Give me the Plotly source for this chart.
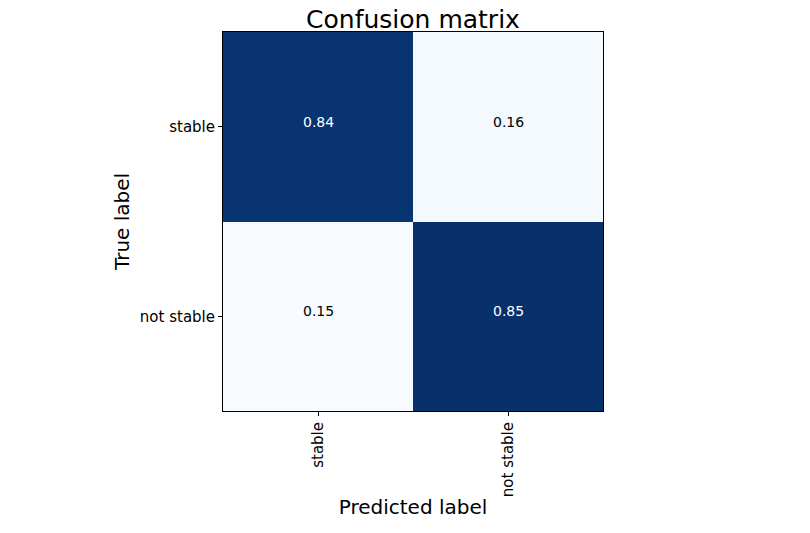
import plotly.graph_objects as go

classes = ["stable", "not stable"]
cm_values = [[0.84, 0.16],
             [0.15, 0.85]]

# matplotlib "Blues"
blues = [[0.0, "#f7fbff"], [0.125, "#deebf7"], [0.25, "#c6dbef"],
         [0.375, "#9ecae1"], [0.5, "#6baed6"], [0.625, "#4292c6"],
         [0.75, "#2171b5"], [0.875, "#08519c"], [1.0, "#08306b"]]

flat = [v for row in cm_values for v in row]
vmin, vmax = min(flat), max(flat)
thresh = (vmin + vmax) / 2.0

fig = go.Figure(go.Heatmap(
    z=cm_values, x=classes, y=classes,
    colorscale=blues, zmin=vmin, zmax=vmax,
    showscale=False, hoverinfo="skip",
))

annotations = []
for i, row in enumerate(cm_values):
    for j, v in enumerate(row):
        annotations.append(dict(
            x=classes[j], y=classes[i], text=f"{v:.2f}", showarrow=False,
            yshift=5,
            font=dict(size=14, color="white" if v > thresh else "black",
                      family="DejaVu Sans"),
        ))

fig.update_layout(
    width=810, height=533,
    margin=dict(l=215, r=215, t=24, b=130),
    paper_bgcolor="white", plot_bgcolor="white",
    font=dict(family="DejaVu Sans", color="black"),
    title=dict(text="Confusion matrix", xref="paper", x=0.5, xanchor="center",
               y=0.979, yanchor="middle", font=dict(size=25)),
    annotations=annotations,
    xaxis=dict(title=dict(text="Predicted label", font=dict(size=20), standoff=3),
               tickangle=-90, tickfont=dict(size=15), ticks="outside",
               ticklen=4, tickcolor="black", showline=True, linecolor="black",
               linewidth=1, mirror=True, showgrid=False, zeroline=False,
               automargin=False),
    yaxis=dict(title=dict(text="True label", font=dict(size=20), standoff=4),
               autorange="reversed", tickfont=dict(size=15), ticks="outside",
               ticklen=4, tickcolor="black", showline=True, linecolor="black",
               linewidth=1, mirror=True, showgrid=False, zeroline=False,
               automargin=False),
)

fig.write_html("out.html")
